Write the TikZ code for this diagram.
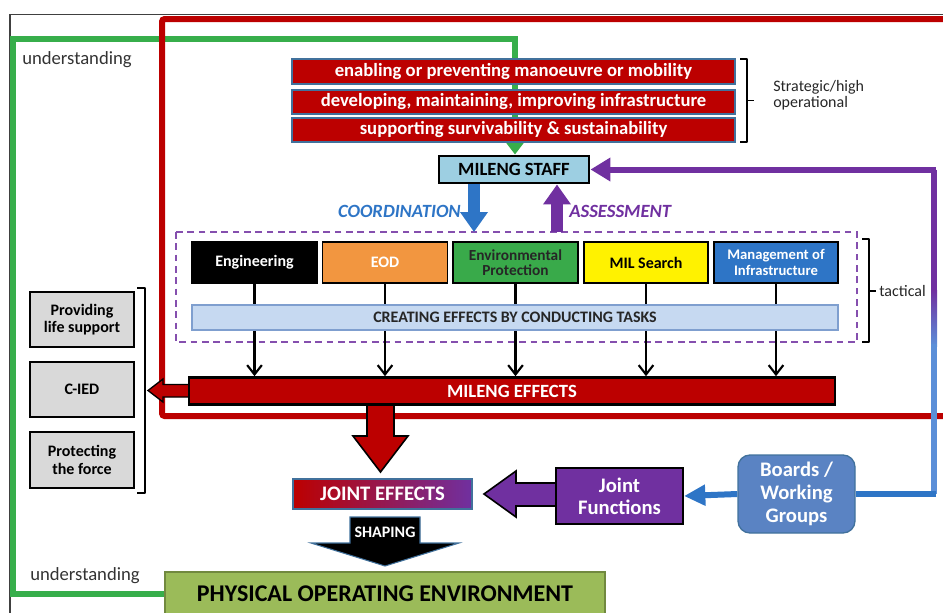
\documentclass[tikz,border=0pt]{standalone}
\usepackage{fontspec}
\setmainfont{Carlito}
\usetikzlibrary{arrows.meta,calc}
\newdimen\pxu \pxu=0.75pt
\definecolor{myred}{HTML}{BC0000}
\definecolor{rbord}{HTML}{41719C}
\definecolor{mypurple}{HTML}{7030A0}
\definecolor{myblue}{HTML}{2E75C6}
\definecolor{ltblue}{HTML}{5B8FD8}
\definecolor{mygreen}{HTML}{37AE4B}
\definecolor{staff}{HTML}{9DCFE2}
\definecolor{barblue}{HTML}{C6D9F1}
\definecolor{barbord}{HTML}{7F9FCF}
\definecolor{eod}{HTML}{F29640}
\definecolor{envg}{HTML}{39AA4A}
\definecolor{boards}{HTML}{5A83C3}
\definecolor{grayb}{HTML}{D9D9D9}
\definecolor{poe}{HTML}{9BBB59}
\definecolor{poeb}{HTML}{71893F}
\tikzset{
  redbox/.style={fill=myred,draw=rbord,line width=1pt,text=white,font=\bfseries\fontsize{14}{15}\selectfont,inner sep=0pt,minimum width=443\pxu},
  taskbox/.style={draw=black,line width=1.3pt,inner sep=0pt,minimum width=125\pxu,minimum height=41\pxu,align=center,font=\bfseries\fontsize{12}{11.5}\selectfont},
  graybox/.style={fill=grayb,draw=black,line width=1.3pt,inner sep=0pt,minimum width=104\pxu,align=center,font=\bfseries\fontsize{12}{13}\selectfont},
  tasklink/.style={line width=1.6pt,-{Straight Barb[length=7pt,width=11pt,line width=1.6pt]}},
  blockarrow/.style={draw=black,line width=1.2pt,line join=miter},
  bracket/.style={line width=1.3pt,line join=round},
  plain/.style={font=\fontsize{12}{12}\selectfont,inner sep=0pt},
  barnode/.style={fill=barblue,draw=barbord,line width=0.8pt,minimum width=646\pxu,minimum height=25\pxu,inner sep=0pt,font=\bfseries\fontsize{12}{13}\selectfont,text=black!85},
  meffnode/.style={fill=myred,draw=black,line width=2pt,minimum width=646\pxu,minimum height=27\pxu,inner sep=0pt,text=white,font=\bfseries\fontsize{14}{15}\selectfont},
}
\begin{document}
\begin{tikzpicture}[x=0.75pt,y=-0.75pt]
\useasboundingbox (0,0) rectangle (943,612);
% outer thin frame
\draw[black!75,line width=0.9pt] (945,14.5) -- (10,14.5) -- (10,614);

% nodes
\node[fill=staff,draw=black,line width=2.2pt,minimum width=150\pxu,minimum height=27\pxu,inner sep=0pt,font=\bfseries\fontsize{14}{15}\selectfont] (staff) at (514,169.5) {MILENG STAFF};

\node[taskbox,fill=black,text=white] (eng) at (254.5,262.5) {Engineering};
\node[taskbox,fill=eod,text=white] (eod) at (385,262.5) {EOD};
\node[taskbox,fill=envg,text=black!85,font=\bfseries\fontsize{11.5}{11.5}\selectfont] (env) at (515.5,262.5) {Environmental\\Protection};
\node[taskbox,fill=yellow,text=black,minimum width=124\pxu] (mil) at (646,262.5) {MIL Search};
\node[taskbox,fill=myblue,text=white,minimum width=124\pxu,font=\bfseries\fontsize{11}{11.5}\selectfont] (mgmt) at (776,262.5) {Management of\\Infrastructure};

\node[meffnode] (meff) at (512,391) {MILENG EFFECTS};

\node[graybox,minimum height=55\pxu] (life) at (82,319.5) {Providing\\life support};
\node[graybox,minimum height=55\pxu] (cied) at (82,389.5) {C-IED};
\node[graybox,minimum height=56\pxu] (prot) at (82,460) {Protecting\\the force};

\node[left color=myred,right color=mypurple,middle color=myred!50!mypurple,draw=rbord,line width=0.8pt,minimum width=179\pxu,minimum height=30\pxu,inner sep=0pt,text=white,font=\bfseries\fontsize{15.5}{17}\selectfont] (jeff) at (382.5,494) {JOINT EFFECTS};

\node[fill=mypurple,draw=black,line width=1.5pt,minimum width=127\pxu,minimum height=56\pxu,inner sep=0pt,align=center,text=white,font=\bfseries\fontsize{15.5}{16.5}\selectfont] (jf) at (619.5,496) {Joint\\Functions};

\node[fill=boards,draw=rbord,line width=1pt,rounded corners=9pt,minimum width=117\pxu,minimum height=78\pxu,inner sep=0pt,align=center,text=white,font=\bfseries\fontsize{15.5}{17}\selectfont] (bwg) at (796.5,494) {Boards /\\Working\\Groups};

\node[fill=poe,draw=poeb,line width=1pt,minimum width=440\pxu,minimum height=44\pxu,inner sep=0pt,font=\bfseries\fontsize{18}{20}\selectfont] (poe) at (385,594) {PHYSICAL OPERATING ENVIRONMENT};

% text labels
\node[plain,font=\fontsize{14}{15}\selectfont,text=black!80] (u1) at (77,60) {understanding};
\node[plain,font=\fontsize{14}{15}\selectfont,text=black!80] (u2) at (85,576) {understanding};
\node[plain,anchor=west,align=left,text=black!85] (strat) at (773,95) {Strategic/high\\operational};
\node[plain,anchor=west,text=black!85] (tact) at (879,291) {tactical};
\node[inner sep=0pt,anchor=east,text=myblue,font=\bfseries\itshape\fontsize{14}{15}\selectfont] (coordl) at (461,211) {COORDINATION};
\node[inner sep=0pt,anchor=west,text=mypurple,font=\bfseries\itshape\fontsize{14}{15}\selectfont] (assl) at (569,211) {ASSESSMENT};

% green understanding loop (behind the red boxes)
\coordinate (gA) at (13,0);
\draw[mygreen,line width=4.5pt,-{Triangle[length=9pt,width=13pt]}] (poe.west) -- (poe.west -| gA) -- ($(gA)+(0,39)$) -- (515,39) -- (staff.north -| 515,0);
\node[redbox,minimum height=25\pxu] (s1) at (513.5,71.5) {enabling or preventing manoeuvre or mobility};
\node[redbox,minimum height=24\pxu] (s2) at (513.5,102) {developing, maintaining, improving infrastructure};
\node[redbox,minimum height=24\pxu] (s3) at (513.5,130) {supporting survivability \& sustainability};

% red frame
\draw[myred,line width=4.5pt,rounded corners=2pt] (950,19) -- (162,19) -- (162,416) -- (950,416);

% dashed tactical frame
\draw[mypurple!85,line width=1.6pt,dash pattern=on 5pt off 3.5pt] (176,232) rectangle (857,342);

% task links
\foreach \t in {eng,eod,env,mil,mgmt}{
  \draw[tasklink] (\t.south) -- (\t.south |- meff.north);
}
\node[barnode] (bar) at (515,317.5) {CREATING EFFECTS BY CONDUCTING TASKS};

% coordination / assessment
\coordinate (dtop1) at (474,232);
\coordinate (dtop2) at (557,232);
\draw[myblue,line width=9pt,-{Triangle[length=15pt,width=20pt]}] (staff.south -| dtop1) -- (dtop1);
\draw[mypurple,line width=9pt,-{Triangle[length=15pt,width=20pt]}] (dtop2) -- (staff.south -| dtop2);

% right purple / blue loop
\coordinate (rc) at (934,0);
\draw[mypurple,line width=4.5pt] (staff.east -| rc) -- ($(rc)+(0,292)$);
\shade[top color=mypurple,bottom color=ltblue] (931,290) rectangle (937,346);
\draw[ltblue,line width=4.5pt] ($(rc)+(0,344)$) -- (bwg.east -| rc);
\draw[myblue,line width=4.5pt] ($(bwg.east -| rc)+(2.2,0)$) -- (bwg.east);
\draw[mypurple,line width=4.5pt,-{Triangle[length=15pt,width=17pt]}] (staff.east -| rc) ++(2.2,0) -- (staff.east);

% boards -> joint functions
\draw[myblue,line width=4.5pt,-{Triangle[length=16pt,width=15pt]}] (bwg.west) -- (jf.east);

% joint functions -> joint effects block arrow
\draw[blockarrow,fill=mypurple] (556,483) -- (516,483) -- (516,471) -- (484,494) -- (516,517) -- (516,506) -- (556,506) -- cycle;

% mileng effects -> left bracket
\draw[blockarrow,fill=myred,line width=1pt] (189,384.5) -- (163,384.5) -- (163,379) -- (148,390.5) -- (163,402) -- (163,397) -- (189,397) -- cycle;

% mileng effects -> joint effects big arrow
\draw[blockarrow,fill=myred] (367,405) -- (367,436) -- (353,436) -- (380.5,472) -- (408,436) -- (394,436) -- (394,405);
\node[meffnode] at (512,391) {MILENG EFFECTS};

% shaping arrow
\draw[fill=black,draw=rbord,line width=0.8pt] (350,517) -- (420,517) -- (420,543) -- (459,543) -- (385,566) -- (311,543) -- (350,543) -- cycle;
\node[inner sep=0pt,text=white,font=\bfseries\fontsize{12}{13}\selectfont] (shp) at (385,532) {SHAPING};

% brackets
\draw[bracket] (740,59) -- (747,59) -- (747,142) -- (740,142);
\draw[bracket] (747,100.5) -- (754,100.5);
\draw[bracket] (862,239) -- (869,239) -- (869,342) -- (862,342);
\draw[bracket] (869,291) -- (876,291);
\draw[bracket] (137,288) -- (145,288) -- (145,493) -- (137,493);
\end{tikzpicture}
\end{document}
